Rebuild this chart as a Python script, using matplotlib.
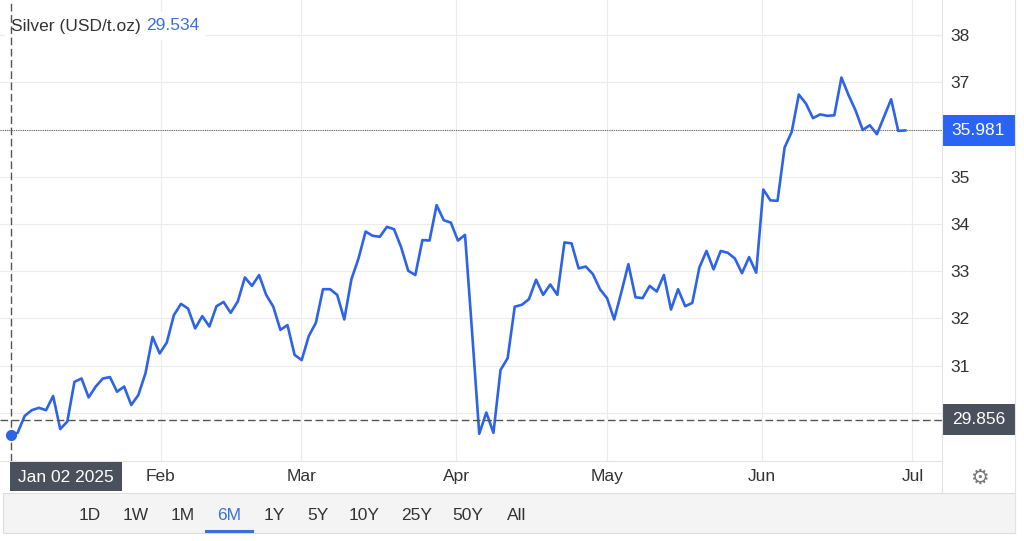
import matplotlib
matplotlib.use("Agg")
import matplotlib.pyplot as plt
import matplotlib.transforms as mtransforms
from matplotlib.patches import Rectangle
from matplotlib.lines import Line2D
import pandas as pd

plt.rcParams['font.family'] = ['Liberation Sans', 'DejaVu Sans']

# silver price samples, evenly spaced in time from Jan 2 2025 to end of June
start_date = "2025-01-02"
end_date = "2025-06-29 14:00"
prices = [
    29.534, 29.58, 29.94, 30.06, 30.11, 30.06, 30.36, 29.66, 29.82, 30.66,
    30.73, 30.33, 30.56, 30.73, 30.76, 30.45, 30.56, 30.17, 30.38, 30.84,
    31.61, 31.26, 31.49, 32.07, 32.31, 32.21, 31.79, 32.05, 31.83, 32.26,
    32.35, 32.12, 32.36, 32.87, 32.69, 32.92, 32.50, 32.25, 31.76, 31.86,
    31.23, 31.12, 31.63, 31.91, 32.62, 32.62, 32.50, 31.98, 32.83, 33.27,
    33.84, 33.75, 33.73, 33.94, 33.89, 33.51, 33.01, 32.92, 33.66, 33.65,
    34.40, 34.08, 34.03, 33.65, 33.77, 31.70, 29.56, 30.01, 29.58, 30.91,
    31.16, 32.25, 32.29, 32.41, 32.82, 32.50, 32.72, 32.50, 33.61, 33.59,
    33.06, 33.10, 32.94, 32.62, 32.43, 31.98, 32.55, 33.15, 32.45, 32.43,
    32.69, 32.57, 32.92, 32.19, 32.62, 32.26, 32.33, 33.08, 33.43, 33.04,
    33.43, 33.39, 33.27, 32.96, 33.30, 32.97, 34.73, 34.50, 34.49, 35.62,
    35.95, 36.74, 36.55, 36.24, 36.32, 36.29, 36.30, 37.10, 36.73, 36.40,
    35.99, 36.09, 35.90, 36.27, 36.64, 35.97, 35.981,
]

header_label = "Silver (USD/t.oz)"
hover_value = 29.534
last_value = 35.981
cursor_value = 29.856
hover_date_label = "Jan 02 2025"

month_ticks = ["2025-02-01", "2025-03-01", "2025-04-01", "2025-05-01", "2025-06-01", "2025-07-01"]
month_labels = ["Feb", "Mar", "Apr", "May", "Jun", "Jul"]
y_ticks = [30, 31, 32, 33, 34, 35, 36, 37, 38]
hidden_ticks = [36]  # sits behind the last-price box
range_buttons = ["1D", "1W", "1M", "6M", "1Y", "5Y", "10Y", "25Y", "50Y", "All"]
active_button = "6M"

W, H = 1024, 541
BLUE = '#2d63e6'
DARK = '#4a505c'
TXT = '#333333'
FS = 12.5


def fx(px):
    return px / W


def fy(py):
    return 1 - py / H


dates = pd.date_range(start_date, end_date, periods=len(prices))
t0 = pd.Timestamp(start_date)

fig = plt.figure(figsize=(W / 100, H / 100), dpi=100)
ax = fig.add_axes([0, fy(461), fx(942), 461 / H])

ax.set_xlim(t0 - pd.Timedelta(days=2.1), t0 + pd.Timedelta(days=185.9))
ax.set_ylim(28.984, 38.741)

# grid + axes styling
ax.grid(True, color='#ececec', lw=0.8)
ax.set_axisbelow(True)
for s in ['top', 'left', 'right']:
    ax.spines[s].set_visible(False)
ax.spines['bottom'].set_color('#e3e3e3')
ax.spines['bottom'].set_linewidth(0.8)

ax.set_xticks(pd.to_datetime(month_ticks))
ax.set_xticklabels(month_labels)
ax.tick_params(axis='x', length=0, pad=5.5, labelsize=FS, labelcolor=TXT)

ax.yaxis.tick_right()
ax.set_yticks(y_ticks)
ax.set_yticklabels(["" if t in hidden_ticks else str(t) for t in y_ticks])
ax.tick_params(axis='y', length=0, pad=5.8, labelsize=FS, labelcolor=TXT)

# price line
ax.plot(dates, prices, color=BLUE, lw=1.9, zorder=3)
ax.plot(dates[0], prices[0], 'o', ms=7, color=BLUE, clip_on=False, zorder=6)

# crosshair + last price line
dash = (0, (5.5, 2.6))
ax.axhline(cursor_value, color='#555555', lw=1.0, ls=dash, zorder=4)
ax.axvline(dates[0], color='#555555', lw=1.0, ls=dash, zorder=4)
ax.axhline(last_value, color='#666666', lw=0.8, ls=(0, (1, 1)), zorder=2)

# header
hdr = ax.text(fx(12), 1 - 26 / 461, header_label, transform=ax.transAxes,
              fontsize=FS, color=TXT, ha='left', va='center', zorder=3,
              bbox=dict(boxstyle='square,pad=0.35', fc='white', ec='none'))
ax.annotate(f"{hover_value:.3f}", xy=(1, 0.5), xycoords=hdr, xytext=(4, 0),
            textcoords='offset points', fontsize=FS, color='#3a6fdc',
            ha='left', va='center', zorder=3,
            bbox=dict(boxstyle='square,pad=0.35', fc='white', ec='none'))

# value boxes on the right axis
trans = mtransforms.blended_transform_factory(ax.transAxes, ax.transData)
y0, y1 = ax.get_ylim()
hh = 15.5 * (y1 - y0) / 461
bw = 73 / 942
for val, col in [(last_value, '#2a64f4'), (cursor_value, DARK)]:
    ax.add_patch(Rectangle((1.0, val - hh), bw, 2 * hh, transform=trans,
                           fc=col, ec='none', clip_on=False, zorder=10))
    ax.text(1.0 + bw / 2, val, f"{val:.3f}", transform=trans, ha='center',
            va='center', color='white', fontsize=FS, zorder=11)

# frame lines of the widget
fig.add_artist(Line2D([fx(942)] * 2, [fy(0), fy(493)], transform=fig.transFigure,
                      color='#e3e3e3', lw=0.8))
fig.add_artist(Line2D([fx(1015)] * 2, [fy(0), fy(533)], transform=fig.transFigure,
                      color='#e3e3e3', lw=0.8))

# hovered date box
fig.add_artist(Rectangle((fx(10), fy(491)), 112 / W, 29 / H, transform=fig.transFigure,
                         fc=DARK, ec='none', zorder=5))
fig.text(fx(66), fy(477), hover_date_label, color='white', fontsize=FS,
         ha='center', va='center', zorder=6)

# settings gear
fig.text(fx(979), fy(478), '\u2699', color='#777777', fontsize=15,
         ha='center', va='center', family=['DejaVu Sans'])

# range selector bar
fig.add_artist(Rectangle((fx(3), fy(533)), 1012 / W, 40 / H, transform=fig.transFigure,
                         fc='#f4f4f4', ec='#dddddd', lw=0.8, zorder=1))
btn_x = [90, 136, 183, 229, 274, 318, 364, 417, 468, 517]
for label, px in zip(range_buttons, btn_x):
    col = '#3a6fdc' if label == active_button else TXT
    fig.text(fx(px), fy(516), label, color=col, fontsize=FS, ha='center',
             va='center', zorder=3)
    if label == active_button:
        fig.add_artist(Line2D([fx(px - 23), fx(px + 23)], [fy(531)] * 2,
                              transform=fig.transFigure, color='#3a6fdc',
                              lw=2.2, zorder=3))

fig.savefig('out.png', dpi=100)
